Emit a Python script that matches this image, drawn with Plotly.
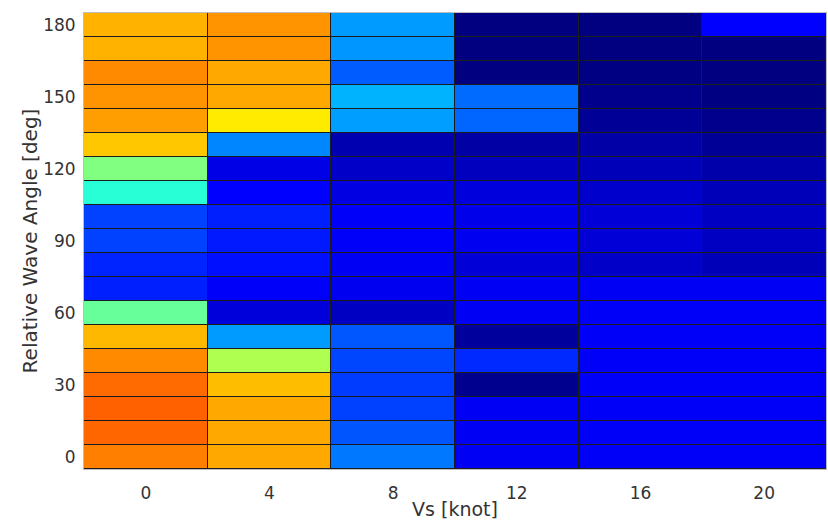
import numpy as np
import plotly.graph_objects as go

vs = [0, 4, 8, 12, 16, 20]
angles = [0, 10, 20, 30, 40, 50, 60, 70, 80, 90, 100, 110, 120, 130, 140, 150, 160, 170, 180]

# values per Vs column, listed from angle 0 to 180 (normalised 0..1)
v0 = [0.75, 0.775, 0.78, 0.77, 0.74, 0.695, 0.475, 0.155, 0.16, 0.19, 0.19, 0.415, 0.50, 0.68, 0.72, 0.73, 0.74, 0.70, 0.70]
v4 = [0.71, 0.71, 0.71, 0.69, 0.547, 0.277, 0.09, 0.12, 0.14, 0.15, 0.155, 0.125, 0.10, 0.257, 0.645, 0.71, 0.71, 0.73, 0.73]
v8 = [0.243, 0.208, 0.189, 0.184, 0.194, 0.21, 0.065, 0.11, 0.115, 0.12, 0.12, 0.096, 0.071, 0.047, 0.28, 0.30, 0.215, 0.272, 0.277]
v12 = [0.115, 0.115, 0.115, 0.015, 0.165, 0.028, 0.115, 0.115, 0.086, 0.11, 0.105, 0.091, 0.061, 0.035, 0.225, 0.23, 0.0, 0.0, 0.0]
v16 = [0.118, 0.118, 0.118, 0.118, 0.118, 0.118, 0.118, 0.115, 0.071, 0.086, 0.086, 0.076, 0.056, 0.037, 0.022, 0.012, 0.003, 0.0, 0.0]
v20 = [0.118, 0.118, 0.118, 0.118, 0.118, 0.118, 0.118, 0.115, 0.056, 0.066, 0.066, 0.056, 0.042, 0.022, 0.012, 0.003, 0.0, 0.0, 0.125]

z = np.column_stack([v0, v4, v8, v12, v16, v20])

jet = [[0.0, 'rgb(0,0,128)'], [0.125, 'rgb(0,0,255)'], [0.375, 'rgb(0,255,255)'],
       [0.625, 'rgb(255,255,0)'], [0.875, 'rgb(255,0,0)'], [1.0, 'rgb(128,0,0)']]

fig = go.Figure(go.Heatmap(
    x=vs, y=angles, z=z, colorscale=jet, zmin=0, zmax=1,
    showscale=False, xgap=1, ygap=1,
))

font_family = "DejaVu Sans, sans-serif"
fig.update_layout(
    width=828, height=522,
    margin=dict(l=84, r=2, t=13, b=53),
    paper_bgcolor='white', plot_bgcolor='#1c1c1c',
    font=dict(family=font_family, size=17, color='#333333'),
    xaxis=dict(range=[-2, 22], tickvals=vs, ticks='', showgrid=False, zeroline=False,
               showline=True, linecolor='#bdbdbd', linewidth=1, mirror=True,
               ticklabelstandoff=9,
               title=dict(text='Vs [knot]', font=dict(size=19), standoff=0),
               tickfont=dict(size=17)),
    yaxis=dict(range=[-5, 185], tickvals=[0, 30, 60, 90, 120, 150, 180], ticks='',
               showgrid=False, zeroline=False,
               showline=True, linecolor='#bdbdbd', linewidth=1, mirror=True,
               ticklabelstandoff=4,
               title=dict(text='Relative Wave Angle [deg]', font=dict(size=20), standoff=0),
               tickfont=dict(size=17)),
)

fig.write_html("out.html")
